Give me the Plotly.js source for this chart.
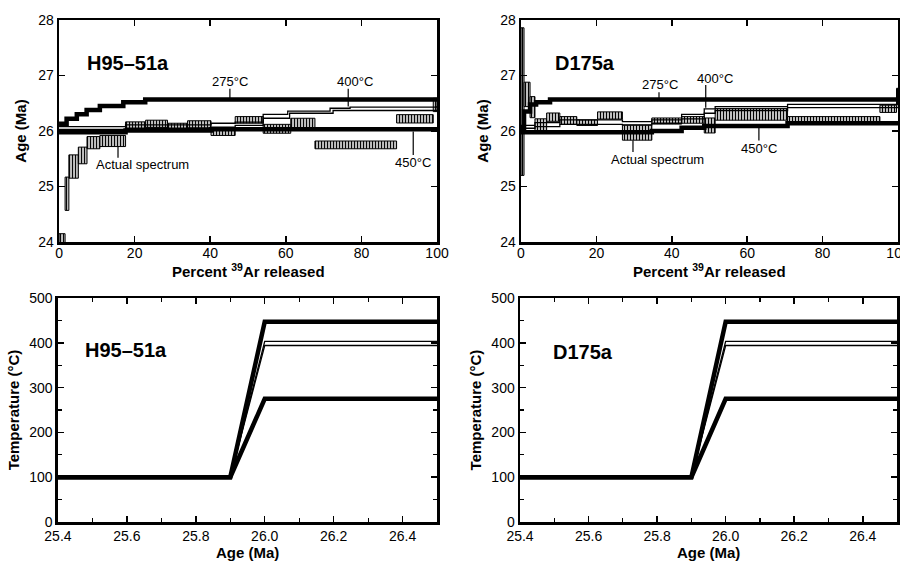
<!DOCTYPE html>
<html><head><meta charset="utf-8">
<script src="https://cdn.plot.ly/plotly-3.0.1.min.js"></script>
<style>html,body{margin:0;padding:0;background:#fff}#chart{width:900px;height:561px}</style>
</head><body><div id="chart"></div>
<script>
// ---------- Sample H95-51a : measured age spectrum ----------
var H_edges = [0, 1.6, 2.6, 5.1, 7.4, 10.8, 17.6, 22.9, 28.7, 34.0, 40.2, 46.6, 54.0, 61.3, 67.7, 89.3, 99.0, 100];
var H_age   = [24.07, 24.87, 25.36, 25.56, 25.79, 25.82, 26.10, 26.13, 26.08, 26.12, 25.99, 26.20, 26.04, 26.14, 25.75, 26.22, 26.47];
var H_err   = [0.08, 0.30, 0.21, 0.15, 0.11, 0.10, 0.065, 0.065, 0.06, 0.065, 0.07, 0.06, 0.08, 0.09, 0.07, 0.075, 0.12];
// model spectra H95-51a
var H_m275_x = [0, 2, 4.7, 7.3, 10.8, 17, 22.8, 100];
var H_m275_y = [26.13, 26.22, 26.30, 26.38, 26.45, 26.52, 26.57, 26.58];
var H_m400a_x = [0, 17.6, 40.2, 46.6, 54, 60.5, 71.7, 77, 100];
var H_m400a_y = [26.08, 26.11, 26.14, 26.16, 26.30, 26.36, 26.41, 26.43, 26.45];
var H_m400b_x = [0, 17.6, 40.2, 46.6, 54, 61, 72.5, 100];
var H_m400b_y = [26.03, 26.05, 26.07, 26.10, 26.23, 26.32, 26.37, 26.38];
var H_m450_x = [0, 17.6, 40.2, 54, 100];
var H_m450_y = [25.98, 26.01, 26.03, 26.03, 26.02];

// ---------- Sample D175a : measured age spectrum ----------
var D_edges = [0, 0.8, 2.4, 3.7, 6.8, 10.3, 14.8, 20.3, 26.9, 34.7, 42.6, 48.6, 51.5, 70.7, 95.2, 99.6, 100];
var D_age   = [26.53, 26.66, 26.43, 26.09, 26.25, 26.19, 26.15, 26.28, 25.97, 26.18, 26.20, 26.10, 26.30, 26.21, 26.40, 26.62];
var D_err   = [1.33, 0.22, 0.19, 0.13, 0.075, 0.07, 0.05, 0.065, 0.135, 0.055, 0.06, 0.135, 0.105, 0.05, 0.065, 0.15];
// model spectra D175a
var D_m275_x = [0, 0.8, 2.4, 4, 7.7, 100];
var D_m275_y = [26.05, 26.35, 26.48, 26.52, 26.57, 26.57];
var D_m400a_x = [0, 3.7, 10.3, 26.9, 34.7, 42.6, 48.6, 51.5, 70.7, 100];
var D_m400a_y = [26.10, 26.15, 26.20, 26.17, 26.20, 26.30, 26.40, 26.44, 26.48, 26.50];
var D_m400b_x = [0, 3.7, 10.3, 26.9, 34.7, 42.6, 48.6, 51.5, 70.7, 100];
var D_m400b_y = [26.05, 26.08, 26.12, 26.11, 26.14, 26.22, 26.32, 26.37, 26.42, 26.44];
var D_m450_x = [0, 34.7, 42.6, 48.6, 70.7, 100];
var D_m450_y = [25.98, 26.00, 26.06, 26.09, 26.14, 26.14];

// ---------- Thermal histories ----------
var T_age = [25.4, 25.9, 26.0, 26.5];
var H_T450  = [100, 100, 447, 447];
var H_T400a = [100, 100, 403, 403];
var H_T400b = [100, 100, 394, 394];
var H_T275  = [100, 100, 275, 275];
var D_T450  = [100, 100, 447, 447];
var D_T400a = [100, 100, 403, 403];
var D_T400b = [100, 100, 394, 394];
var D_T275  = [100, 100, 275, 275];

// tick labels
var pctTicks = [0, 20, 40, 60, 80, 100];
var ageTicks = [24, 25, 26, 27, 28];

var FONT = 'Liberation Sans, Arial, Helvetica, sans-serif';

function specBars(edges, age, err, xa, ya) {
  var x = [], w = [], base = [], h = [];
  for (var i = 0; i < age.length; i++) {
    x.push((edges[i] + edges[i + 1]) / 2);
    w.push(edges[i + 1] - edges[i]);
    base.push(age[i] - err[i]);
    h.push(2 * err[i]);
  }
  return {
    type: 'bar', x: x, y: h, base: base, width: w, xaxis: xa, yaxis: ya,
    marker: {color: 'white', line: {color: 'black', width: 1},
      pattern: {shape: '|', fgcolor: 'black', bgcolor: 'white', size: 3, solidity: 0.5}},
    hoverinfo: 'skip'
  };
}
function stepLine(x, y, xa, ya, wd) {
  return {type: 'scatter', mode: 'lines', x: x, y: y, xaxis: xa, yaxis: ya,
    line: {color: 'black', width: wd, shape: 'hv'}, hoverinfo: 'skip'};
}
function line(x, y, xa, ya, wd) {
  return {type: 'scatter', mode: 'lines', x: x, y: y, xaxis: xa, yaxis: ya,
    line: {color: 'black', width: wd}, hoverinfo: 'skip'};
}
var THICK = 4.5, THIN = 1.3;

var data = [
  specBars(H_edges, H_age, H_err, 'x', 'y'),
  stepLine(H_m275_x, H_m275_y, 'x', 'y', THICK),
  stepLine(H_m400a_x, H_m400a_y, 'x', 'y', THIN),
  stepLine(H_m400b_x, H_m400b_y, 'x', 'y', THIN),
  stepLine(H_m450_x, H_m450_y, 'x', 'y', THICK),

  specBars(D_edges, D_age, D_err, 'x2', 'y2'),
  stepLine(D_m275_x, D_m275_y, 'x2', 'y2', THICK),
  stepLine(D_m400a_x, D_m400a_y, 'x2', 'y2', THIN),
  stepLine(D_m400b_x, D_m400b_y, 'x2', 'y2', THIN),
  stepLine(D_m450_x, D_m450_y, 'x2', 'y2', THICK),

  line(T_age, H_T450, 'x3', 'y3', THICK),
  line(T_age, H_T400a, 'x3', 'y3', THIN),
  line(T_age, H_T400b, 'x3', 'y3', THIN),
  line(T_age, H_T275, 'x3', 'y3', THICK),

  line(T_age, D_T450, 'x4', 'y4', THICK),
  line(T_age, D_T400a, 'x4', 'y4', THIN),
  line(T_age, D_T400b, 'x4', 'y4', THIN),
  line(T_age, D_T275, 'x4', 'y4', THICK)
];

function ax(extra) {
  var a = {showline: true, linecolor: 'black', linewidth: 2.5, mirror: 'ticks',
    ticks: 'inside', ticklen: 6, tickwidth: 1.5, tickcolor: 'black',
    showgrid: false, zeroline: false, fixedrange: true, ticklabeloverflow: 'allow',
    tickfont: {family: FONT, size: 14, color: 'black'}};
  for (var k in extra) a[k] = extra[k];
  return a;
}
var titleFont = {family: FONT, size: 15, color: 'black', weight: 'bold'};

var topY = [0.5686, 0.9643], botY = [0.0695, 0.4688];
var layout = {
  width: 900, height: 561, showlegend: false, barmode: 'overlay',
  paper_bgcolor: 'white', plot_bgcolor: 'white',
  margin: {l: 0, r: 0, t: 0, b: 0},
  font: {family: FONT, color: 'black'},
  xaxis: ax({domain: [0.0656, 0.4856], range: [0, 100], tickvals: pctTicks, anchor: 'y', ticklabelstandoff: -3}),
  yaxis: ax({domain: topY, range: [24, 28], tickvals: ageTicks, anchor: 'x',
    title: {text: 'Age (Ma)', font: titleFont, standoff: 8}}),
  xaxis2: ax({domain: [0.5789, 0.9978], range: [0, 100], tickvals: pctTicks, anchor: 'y2', ticklabelstandoff: -3}),
  yaxis2: ax({domain: topY, range: [24, 28], tickvals: ageTicks, anchor: 'x2',
    title: {text: 'Age (Ma)', font: titleFont, standoff: 8}}),
  xaxis3: ax({domain: [0.0644, 0.4856], range: [25.4, 26.5], tick0: 25.4, dtick: 0.2, tickformat: '.1f', anchor: 'y3',
    minor: {ticks: 'inside', dtick: 0.1, tick0: 25.4, ticklen: 4, tickwidth: 1.2, tickcolor: 'black'}}),
  yaxis3: ax({domain: botY, range: [0, 500], dtick: 100, anchor: 'x3',
    minor: {ticks: 'inside', dtick: 50, ticklen: 4, tickwidth: 1.2, tickcolor: 'black'},
    title: {text: 'Temperature (°C)', font: titleFont, standoff: 6}}),
  xaxis4: ax({domain: [0.5778, 0.9967], range: [25.4, 26.5], tick0: 25.4, dtick: 0.2, tickformat: '.1f', anchor: 'y4',
    minor: {ticks: 'inside', dtick: 0.1, tick0: 25.4, ticklen: 4, tickwidth: 1.2, tickcolor: 'black'}}),
  yaxis4: ax({domain: botY, range: [0, 500], dtick: 100, anchor: 'x4',
    minor: {ticks: 'inside', dtick: 50, ticklen: 4, tickwidth: 1.2, tickcolor: 'black'},
    title: {text: 'Temperature (°C)', font: titleFont, standoff: 6}}),
  annotations: [],
  shapes: []
};

function label(txt, x, y, xr, yr, size, bold) {
  layout.annotations.push({text: txt, x: x, y: y, xref: xr, yref: yr, showarrow: false,
    xanchor: 'center', yanchor: 'middle',
    font: {family: FONT, size: size, color: 'black', weight: bold ? 'bold' : 'normal'}});
}
function pointer(x, y0, y1, xr, yr) {
  layout.shapes.push({type: 'line', xref: xr, yref: yr, x0: x, x1: x, y0: y0, y1: y1,
    line: {color: 'black', width: 1.2}});
}
// x-axis titles (placed as paper-anchored labels under each panel)
label('Percent <sup>39</sup>Ar released', 0.5, 0.5185, 'x domain', 'paper', 15, true);
label('Percent <sup>39</sup>Ar released', 0.5, 0.5185, 'x2 domain', 'paper', 15, true);
label('Age (Ma)', 0.5, 0.0143, 'x3 domain', 'paper', 15, true);
label('Age (Ma)', 0.5, 0.0143, 'x4 domain', 'paper', 15, true);
// panel titles
label('H95–51a', 18.3, 27.23, 'x', 'y', 20, true);
label('D175a', 17, 27.23, 'x2', 'y2', 20, true);
label('H95–51a', 25.597, 384, 'x3', 'y3', 20, true);
label('D175a', 25.584, 380, 'x4', 'y4', 20, true);
// H95-51a curve labels
label('275°C', 45.2, 26.89, 'x', 'y', 13); pointer(45.2, 26.76, 26.59, 'x', 'y');
label('400°C', 78.3, 26.89, 'x', 'y', 13); pointer(76.5, 26.76, 26.44, 'x', 'y');
label('450°C', 93.7, 25.43, 'x', 'y', 13); pointer(93.7, 25.57, 25.99, 'x', 'y');
label('Actual spectrum', 22.2, 25.39, 'x', 'y', 13); pointer(15.6, 25.72, 25.52, 'x', 'y');
// D175a curve labels
label('275°C', 36.9, 26.83, 'x2', 'y2', 13); pointer(36.6, 26.70, 26.59, 'x2', 'y2');
label('400°C', 51.5, 26.95, 'x2', 'y2', 13); pointer(49.0, 26.83, 26.42, 'x2', 'y2');
label('450°C', 63.1, 25.69, 'x2', 'y2', 13); pointer(63.1, 25.83, 26.07, 'x2', 'y2');
label('Actual spectrum', 36.3, 25.48, 'x2', 'y2', 13); pointer(29.7, 25.83, 25.62, 'x2', 'y2');

Plotly.newPlot('chart', data, layout, {staticPlot: true, displayModeBar: false});
</script></body></html>
